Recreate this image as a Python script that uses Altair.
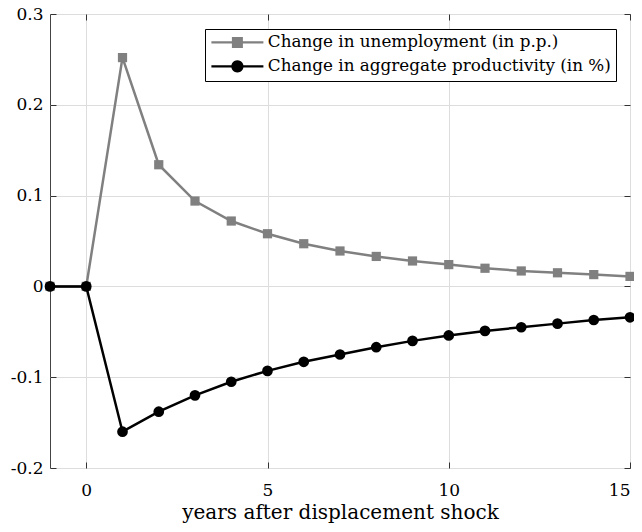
import math
import altair as alt
import pandas as pd

years = list(range(-1, 16))
unemployment = [0, 0, 0.252, 0.134, 0.094, 0.072, 0.058, 0.047, 0.039, 0.033,
                0.028, 0.024, 0.020, 0.017, 0.015, 0.013, 0.011]
productivity = [0, 0, -0.160, -0.138, -0.120, -0.105, -0.093, -0.083, -0.075,
                -0.067, -0.060, -0.054, -0.049, -0.045, -0.041, -0.037, -0.034]
series_names = ["Change in unemployment (in p.p.)",
                "Change in aggregate productivity (in %)"]
series_colors = ["#808080", "#000000"]
x_ticks = [0, 5, 10, 15]
y_ticks = [-0.2, -0.1, 0, 0.1, 0.2, 0.3]

rows = []
for i, yr in enumerate(years):
    rows.append({"year": yr, "value": unemployment[i], "series": series_names[0]})
    rows.append({"year": yr, "value": productivity[i], "series": series_names[1]})
df = pd.DataFrame(rows)

FONT = "DejaVu Serif"
xs = alt.Scale(domain=[-1, 15], nice=False, zero=False)
ys = alt.Scale(domain=[-0.2, 0.3], nice=False)
ylab = ("datum.value == 0 ? '0' : (datum.value < 0 ? '-' + format(-datum.value, '.1f') "
        ": format(datum.value, '.1f'))")

x_main = alt.X("year:Q", scale=xs,
               axis=alt.Axis(values=x_ticks, title="years after displacement shock",
                             orient="bottom", grid=True, domain=False, offset=-6,
                             tickSize=6, labelPadding=14, titlePadding=4, format="d"))
y_main = alt.Y("value:Q", scale=ys,
               axis=alt.Axis(values=y_ticks, title=None, orient="left", grid=True,
                             domain=False, offset=-6, tickSize=6, labelPadding=7,
                             labelExpr=ylab))
x_top = alt.X("year:Q", scale=xs,
              axis=alt.Axis(values=x_ticks, title=None, orient="top", grid=False,
                            domain=False, offset=-6, tickSize=6, labels=False))
y_right = alt.Y("value:Q", scale=ys,
                axis=alt.Axis(values=y_ticks, title=None, orient="right", grid=False,
                              domain=False, offset=-6, tickSize=6, labels=False))
x_none = alt.X("year:Q", scale=xs, axis=None)
y_none = alt.Y("value:Q", scale=ys, axis=None)

u = df[df.series == series_names[0]]
p = df[df.series == series_names[1]]

u_line = alt.Chart(u).mark_line(color=series_colors[0], strokeWidth=2.5).encode(x=x_main, y=y_main)
p_line = alt.Chart(p).mark_line(color=series_colors[1], strokeWidth=2.5).encode(x=x_top, y=y_right)
u_pts = alt.Chart(u).mark_point(shape="square", filled=True, opacity=1,
                                color=series_colors[0], size=85).encode(x=x_none, y=y_none)
p_pts = alt.Chart(p).mark_point(shape="circle", filled=True, opacity=1,
                                color=series_colors[1], size=115).encode(x=x_none, y=y_none)

# legend symbols: a line segment with the marker in its middle
# symbolSize 100 -> 5 px per path unit
sq_path = "M-5.2,0H5.2M-0.88,-0.88H0.88V0.88H-0.88Z"
n = 24
r = 1.0
ci_pts = ["%s%.4f,%.4f" % ("M" if k == 0 else "L", r * math.cos(2 * math.pi * k / n),
                           r * math.sin(2 * math.pi * k / n)) for k in range(n)]
ci_path = "M-5.2,0H5.2" + "".join(ci_pts) + "Z"

legend_layer = alt.Chart(df).mark_point(filled=True, opacity=0).encode(
    x=x_none, y=y_none,
    color=alt.Color("series:N",
                    scale=alt.Scale(domain=series_names, range=series_colors),
                    legend=alt.Legend(title=None, orient="none", legendX=155, legendY=15,
                                      padding=5, strokeColor="#000000", fillColor="#ffffff",
                                      labelFont=FONT, labelFontSize=16.8, labelColor="#000000",
                                      symbolSize=100, symbolStrokeWidth=2.2,
                                      symbolOffset=19, labelOffset=22,
                                      symbolOpacity=1, labelLimit=0, rowPadding=5)),
    stroke=alt.Stroke("series:N",
                      scale=alt.Scale(domain=series_names, range=series_colors),
                      legend=None),
    shape=alt.Shape("series:N",
                    scale=alt.Scale(domain=series_names, range=[sq_path, ci_path]),
                    legend=None),
)

chart = alt.layer(u_line, p_line, u_pts, p_pts, legend_layer).resolve_axis(
    x="independent", y="independent"
).properties(
    width=580, height=454,
    autosize=alt.AutoSizeParams(type="none"),
    padding={"left": 42, "top": 6, "right": 4, "bottom": 56},
).configure_view(stroke="#444444", strokeWidth=1).configure_axis(
    labelFont=FONT, labelFontSize=17, labelColor="#000000",
    titleFont=FONT, titleFontSize=20, titleColor="#000000", titleFontWeight="normal",
    gridColor="#dddddd", gridWidth=1, tickColor="#333333", tickWidth=1,
)

chart.save("out.html", embed_options={"renderer": "svg", "actions": False})
